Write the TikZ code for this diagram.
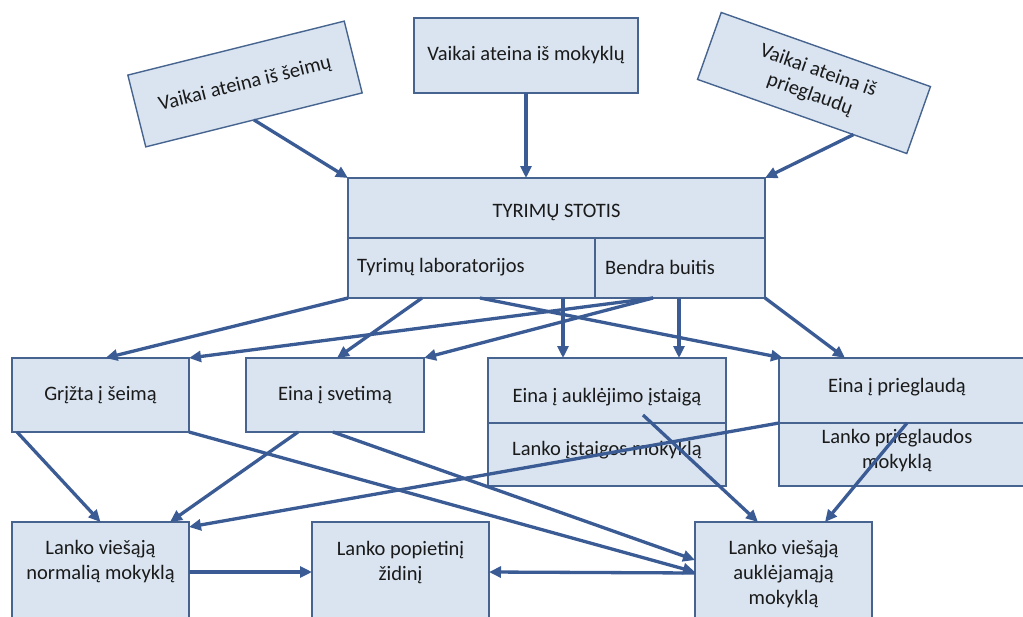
\documentclass[tikz,border=0pt]{standalone}
\usepackage{fontspec}
\setmainfont{Carlito}
\usetikzlibrary{calc,arrows.meta}
\definecolor{boxfill}{HTML}{D9E4F0}
\definecolor{boxline}{HTML}{46648F}
\definecolor{arr}{HTML}{3B5B94}
\definecolor{txtc}{HTML}{1A1A1A}
\begin{document}
\begin{tikzpicture}[x=1pt,y=-1pt,
  box/.style={draw=boxline, line width=1.4pt, fill=boxfill, inner sep=0pt, outer sep=0pt, text=txtc, font=\fontsize{20.5}{25}\selectfont, align=center},
  txt/.style={text=txtc, font=\fontsize{20.5}{25}\selectfont, align=center, inner sep=0pt},
  conn/.style={draw=arr, line width=3.3pt, -{Triangle[length=12pt,width=11pt]}}
]
\useasboundingbox (0,0) rectangle (1023,616);
\clip (0,0) rectangle (1023,616);
% top sources
\node[box, minimum width=223pt, minimum height=74pt, rotate=14] (s1) at (245,84) {Vaikai ateina iš šeimų};
\node[box, minimum width=224pt, minimum height=75pt] (s2) at (526,55.5) {Vaikai ateina iš mokyklų};
\node[box, minimum width=222pt, minimum height=71pt, rotate=-19.5] (s3) at (814,83) {Vaikai ateina iš\\prieglaudų};
% station
\node[box, minimum width=417pt, minimum height=60pt, anchor=north west] (ts) at (348,178) {};
\node[txt] (tts) at ($(ts.center)+(0,4)$) {TYRIMŲ STOTIS};
\node[box, minimum width=247pt, minimum height=60pt, anchor=north west] (tl) at (348,238) {};
\node[box, minimum width=170pt, minimum height=60pt, anchor=north west] (tr) at (595,238) {};
\node[txt, anchor=west] (ttl) at ($(tl.west)+(9,-1)$) {Tyrimų laboratorijos};
\node[txt, anchor=west] (ttr) at ($(tr.west)+(10,-1)$) {Bendra buitis};
% row 2
\node[box, minimum width=177pt, minimum height=74pt, anchor=north west] (g1) at (12,358) {Grįžta į šeimą};
\node[box, minimum width=178pt, minimum height=74pt, anchor=north west] (g2) at (246,358) {Eina į svetimą};
\node[box, minimum width=238pt, minimum height=65pt, anchor=north west] (g3a) at (488,358) {};
\node[box, minimum width=238pt, minimum height=63pt, anchor=north west] (g3b) at (488,423) {};
\node[txt] (t3a) at ($(g3a.center)+(0,7)$) {Eina į auklėjimo įstaigą};
\node[txt] (t3b) at ($(g3b.center)+(0,-4)$) {Lanko įstaigos mokyklą};
\node[box, minimum width=250pt, minimum height=65pt, anchor=north west] (g4a) at (779,358) {};
\node[box, minimum width=250pt, minimum height=63pt, anchor=north west] (g4b) at (779,423) {};
\node[txt] (t4a) at ($(g4a.center)+(-7,-3)$) {Eina į prieglaudą};
\node[txt] (t4b) at ($(g4b.center)+(-7,-4)$) {Lanko prieglaudos\\mokyklą};
% row 3
\node[box, minimum width=177pt, minimum height=120pt, anchor=north west] (b1) at (12,522) {};
\node[box, minimum width=177pt, minimum height=120pt, anchor=north west] (b2) at (312,522) {};
\node[box, minimum width=177pt, minimum height=120pt, anchor=north west] (b3) at (695,522) {};
\node[txt] (tb1) at ($(b1.north)+(0,40)$) {Lanko viešąją\\normalią mokyklą};
\node[txt] (tb2) at ($(b2.north)+(0,40.5)$) {Lanko popietinį\\židinį};
\node[txt] (tb3) at ($(b3.north)+(0,52)$) {Lanko viešąją\\auklėjamąją\\mokyklą};
% connectors
\draw[conn] (s1.south) -- (ts.north west);
\draw[conn] (s2.south) -- (s2.south |- ts.north);
\draw[conn] ($(s3.south)!0.49!(s3.south east)$) -- (ts.north east);
\draw[conn] (tl.south west) -- ($(g1.north)+(5,0)$);
\draw[conn] ($(tl.south west)+(74,0)$) -- ($(g2.north)+(2,0)$);
\draw[conn] ($(tl.south west)+(132,0)$) -- ($(g4a.north west)+(4,0)$);
\draw[conn] ($(tr.south west)+(58,0)$) -- (g1.north east);
\draw[conn] ($(tr.south west)+(58,0)$) -- (g2.north east);
\coordinate (v1) at ($(tl.south west)+(215,0)$);
\coordinate (v2) at ($(tr.south west)+(84,0)$);
\draw[conn] (v1) -- (v1 |- g3a.north);
\draw[conn] (v2) -- (v2 |- g3a.north);
\draw[conn] (tr.south east) -- ($(g4a.north west)+(66,0)$);
\draw[conn] ($(g1.south west)+(5,0)$) -- (b1.north);
\draw[conn] ($(g2.south west)+(52,0)$) -- ($(b1.north east)+(-19,0)$);
\draw[conn] (g4a.south west) -- ($(b1.north east)+(0,5)$);
\draw[conn] (g1.south east) -- ($(b3.north west)+(0,50)$);
\draw[conn] ($(g2.south west)+(87,0)$) -- ($(b3.north west)+(0,38)$);
\draw[conn] ($(g3a.north west)+(155,57)$) -- ($(b3.north west)+(63,0)$);
\draw[conn] ($(g4a.south west)+(128,0)$) -- ($(b3.north west)+(130,0)$);
\draw[conn] ($(b3.north west)+(0,51)$) -- ($(b2.north east)+(0,50)$);
\draw[conn] ($(b1.north east)+(0,50)$) -- ($(b2.north west)+(0,50)$);
\end{tikzpicture}
\end{document}
